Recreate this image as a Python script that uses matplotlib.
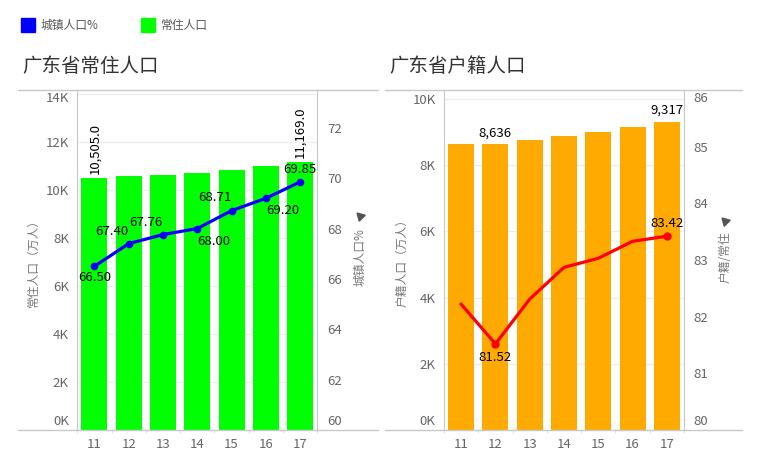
import matplotlib
matplotlib.use("Agg")
import matplotlib.pyplot as plt
from matplotlib.lines import Line2D
from matplotlib.patches import Rectangle
from matplotlib.transforms import Affine2D

plt.rcParams['font.family'] = ['Noto Sans CJK SC', 'DejaVu Sans']

# ---------------- data ----------------
years = ['11', '12', '13', '14', '15', '16', '17']
resident_pop = [10505, 10594, 10644, 10724, 10849, 10999, 11169]      # 常住人口 (万人)
urban_pct = [66.50, 67.40, 67.76, 68.00, 68.71, 69.20, 69.85]        # 城镇人口%
registered_pop = [8637, 8636, 8761, 8887, 9008, 9166, 9317]           # 户籍人口 (万人)
reg_ratio = [82.22, 81.52, 82.31, 82.87, 83.03, 83.33, 83.42]         # 户籍/常住

left_ticks = [0, 2000, 4000, 6000, 8000, 10000, 12000, 14000]
left_r_ticks = [60, 62, 64, 66, 68, 70, 72]
right_ticks = [0, 2000, 4000, 6000, 8000, 10000]
right_r_ticks = [80, 81, 82, 83, 84, 85, 86]

W, H = 757, 458
fig = plt.figure(figsize=(W / 100, H / 100), dpi=100)

GRAY_LINE = '#c8c8c8'
TICK_COL = '#666666'
x = list(range(len(years)))


def fx(px):
    return px / W


def fy(py):
    return 1 - py / H


def shift_label(lbl, dy):
    lbl.set_transform(lbl.get_transform() + Affine2D().translate(0, dy))


def setup_axes(left_px, ylim, rylim, yticks, rticks):
    ax = fig.add_axes([fx(left_px), fy(430), 240 / W, 340 / H])
    ax.set_xlim(-0.5, len(years) - 0.5)
    ax.set_ylim(*ylim)
    ax.set_yticks(yticks)
    ax.set_yticklabels([f'{int(t / 1000)}K' for t in yticks])
    ax.set_xticks(x)
    ax.set_xticklabels(years)
    ax.set_xticks([i - 0.5 for i in range(len(years) + 1)], minor=True)
    ax.tick_params(axis='x', which='major', length=0, pad=6, labelsize=9.5, colors=TICK_COL)
    ax.tick_params(axis='x', which='minor', length=2.5, width=0.8, color='#e0e0e0', direction='out')
    ax.tick_params(axis='y', length=0, pad=6, labelsize=9.5, colors=TICK_COL)
    for s in ['top', 'bottom']:
        ax.spines[s].set_visible(False)
    for s in ['left', 'right']:
        ax.spines[s].set_color(GRAY_LINE)
    ax.grid(axis='y', color='#ededed', linewidth=0.9)
    ax.set_axisbelow(True)
    ax2 = ax.twinx()
    ax2.set_ylim(*rylim)
    ax2.set_yticks(rticks)
    ax2.tick_params(axis='y', length=0, pad=7, labelsize=9.5, colors=TICK_COL)
    for s in ['top', 'bottom', 'left', 'right']:
        ax2.spines[s].set_visible(False)
    return ax, ax2


# horizontal frame lines
for (x0, x1) in [(18, 378), (385, 742)]:
    for yy in (90, 430):
        fig.add_artist(Line2D([fx(x0), fx(x1)], [fy(yy), fy(yy)], color=GRAY_LINE, lw=1.0))

# legend
fig.add_artist(Rectangle((fx(21), fy(32)), 14 / W, 14 / H, color='#0000ff', transform=fig.transFigure))
fig.text(fx(41), fy(25), '城镇人口%', fontsize=8.5, color='#555555', va='center')
fig.add_artist(Rectangle((fx(141), fy(32)), 14 / W, 14 / H, color='#00ff00', transform=fig.transFigure))
fig.text(fx(161), fy(25), '常住人口', fontsize=8.5, color='#555555', va='center')

# titles
fig.text(fx(22), fy(67), '广东省常住人口', fontsize=14, color='#333333', va='center')
fig.text(fx(389), fy(67), '广东省户籍人口', fontsize=14, color='#333333', va='center')

# ---------------- left panel ----------------
axL, axL2 = setup_axes(77.3, (0, 14170), (60, 73.5), left_ticks, left_r_ticks)
axL.bar(x, resident_pop, width=0.76, color='#00ff00', zorder=2)
axL2.plot(x, urban_pct, color='#0000ff', lw=2.3, marker='o', markersize=4.5, zorder=3)

for i in (0, len(x) - 1):
    axL.annotate(f'{resident_pop[i]:,.1f}', (x[i], resident_pop[i]), xytext=(0, 3),
                 textcoords='offset points', rotation=90, ha='center', va='bottom',
                 fontsize=9.5, color='black')

left_offsets = [(0, -8), (-12, 9), (-12, 9), (12, -9.5), (-12, 9.5), (12, -9), (0, 9)]
for i, (dx, dy) in enumerate(left_offsets):
    axL2.annotate(f'{urban_pct[i]:.2f}', (x[i], urban_pct[i]), xytext=(dx, dy),
                  textcoords='offset points', ha='center', va='center',
                  fontsize=9.5, color='black', zorder=5)

shift_label(axL.get_yticklabels()[0], 10)
shift_label(axL.get_yticklabels()[-1], -3)
shift_label(axL2.get_yticklabels()[0], 10)

axL.text(-0.185, 0.5, '常住人口（万人）', transform=axL.transAxes, rotation=90,
         ha='center', va='center', fontsize=8.5, color='#777777')
axL.text(1.178, 0.595, '城镇人口%', transform=axL.transAxes, rotation=90,
         ha='center', va='top', fontsize=8.5, color='#777777')
axL.plot([1.178], [0.628], transform=axL.transAxes, marker=(3, 0, 45), markersize=7,
         color='#555555', clip_on=False)

# ---------------- right panel ----------------
axR, axR2 = setup_axes(444, (0, 10272), (80, 86.0), right_ticks, right_r_ticks)
axR.bar(x, registered_pop, width=0.76, color='#ffaa00', zorder=2)
axR2.plot(x, reg_ratio, color='#ff0000', lw=2.3, zorder=3)
axR2.plot([x[1], x[-1]], [reg_ratio[1], reg_ratio[-1]], linestyle='none', marker='o',
          markersize=5, color='#ff0000', zorder=4)

for i in (1, len(x) - 1):
    axR.annotate(f'{registered_pop[i]:,}', (x[i], registered_pop[i]), xytext=(0, 8),
                 textcoords='offset points', ha='center', va='center',
                 fontsize=9.5, color='black')
axR2.annotate(f'{reg_ratio[1]:.2f}', (x[1], reg_ratio[1]), xytext=(0, -9.5),
              textcoords='offset points', ha='center', va='center', fontsize=9.5, color='black')
axR2.annotate(f'{reg_ratio[-1]:.2f}', (x[-1], reg_ratio[-1]), xytext=(0, 9.5),
              textcoords='offset points', ha='center', va='center', fontsize=9.5, color='black')

shift_label(axR.get_yticklabels()[0], 10)
shift_label(axR2.get_yticklabels()[0], 10)
shift_label(axR2.get_yticklabels()[-1], -7)

axR.text(-0.175, 0.5, '户籍人口（万人）', transform=axR.transAxes, rotation=90,
         ha='center', va='center', fontsize=8.5, color='#777777')
axR.text(1.171, 0.583, '户籍/常住', transform=axR.transAxes, rotation=90,
         ha='center', va='top', fontsize=8.5, color='#777777')
axR.plot([1.171], [0.615], transform=axR.transAxes, marker=(3, 0, 45), markersize=7,
         color='#555555', clip_on=False)

fig.savefig('out.png', dpi=100)
